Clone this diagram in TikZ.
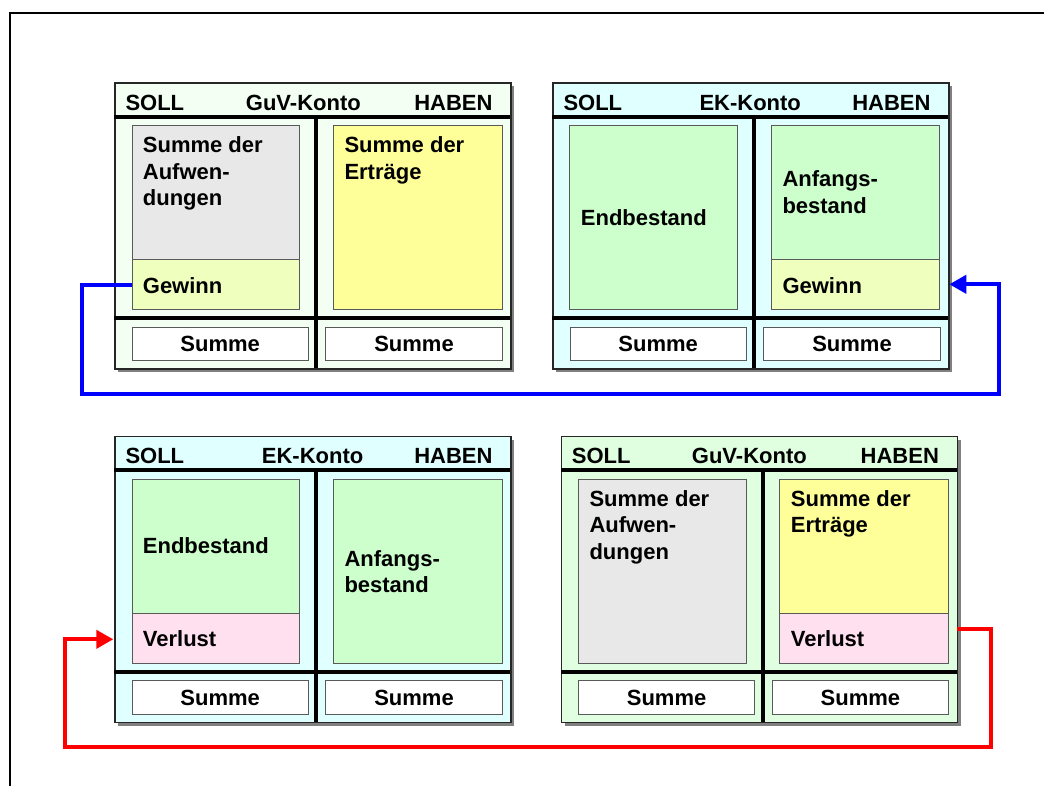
\documentclass[tikz,border=0pt]{standalone}
\usepackage{fontspec}
\setmainfont{Liberation Sans}
\usetikzlibrary{arrows.meta}

% fill colours
\definecolor{bgGuvOben}{HTML}{F2FFF2}
\definecolor{bgEk}{HTML}{E0FFFF}
\definecolor{bgGuvUnten}{HTML}{E0FFE0}
\definecolor{feldGrau}{HTML}{E8E8E8}
\definecolor{feldGelb}{HTML}{FFFF99}
\definecolor{feldGruen}{HTML}{CCFFCC}
\definecolor{feldGewinn}{HTML}{EEFFBE}
\definecolor{feldVerlust}{HTML}{FFE0EE}

\tikzset{
  konto/.style={draw=black!85, line width=1.2pt, inner sep=0pt,
    minimum width=396pt, minimum height=286pt, anchor=north west},
  kontoschatten/.style={fill=black!50},
  feld/.style={draw=black!65, line width=1pt, inner sep=0pt, anchor=north west,
    font=\fontsize{22}{26.7}\selectfont\bfseries},
  trennlinie/.style={line width=4pt, black},
  beschriftung/.style={font=\fontsize{22}{26.7}\selectfont\bfseries,
    inner sep=0pt, anchor=base west},
  fluss/.style={line width=4pt, -{Triangle[length=17pt,width=18pt]}},
}

% T-account frame: #1 name, #2 x, #3 y, #4 background, #5 title, #6 title x
\newcommand{\kontorahmen}[6]{%
  \begin{scope}[shift={(#2,#3)}]
    \fill[kontoschatten] (4,4) rectangle (400,290);
    \node[konto, fill=#4] (#1) at (0,0) {};
    \draw[trennlinie] (0,34.4) -- (396,34.4);
    \draw[trennlinie] (202,34.4) -- (202,286);
    \draw[trennlinie] (0,236) -- (396,236);
    \node[feld, fill=white, minimum width=176pt, minimum height=33.3pt]
      (#1-summeS) at (17.4,244.4) {Summe};
    \node[feld, fill=white, minimum width=176.4pt, minimum height=33.3pt]
      (#1-summeH) at (211,244.4) {Summe};
    \node[beschriftung] (#1-soll) at (11,27.7) {SOLL};
    \node[beschriftung, anchor=base east] (#1-haben) at (378.4,27.7) {HABEN};
    \node[beschriftung] (#1-titel) at (#6,27.7) {#5};
  \end{scope}}

\newcommand{\zeilen}[1]{\parbox[t]{160pt}{#1}}

\begin{document}
\begin{tikzpicture}[x=1pt,y=-1pt]
\useasboundingbox (0,0) rectangle (1044,785);
\clip (0,0) rectangle (1044,785);

% page frame
\draw[line width=1.6pt] (10,800) -- (10,12.7) -- (1050,12.7);

% ---- top left: GuV account with profit
\kontorahmen{tl}{114.3}{82.3}{bgGuvOben}{GuV-Konto}{131.4}
\begin{scope}[shift={(114.3,82.3)}]
  \node[feld, fill=feldGrau, minimum width=167.6pt, minimum height=134.3pt] (tl-aufw) at (17.4,42.7) {};
  \node[feld, fill=feldGewinn, minimum width=167.6pt, minimum height=50pt] (tl-gew) at (17.4,177) {};
  \node[feld, fill=feldGelb, minimum width=168.4pt, minimum height=184.3pt] (tl-ertr) at (219,42.7) {};
  \node[beschriftung] (tl-aufw-t) at (28.4,70) {\zeilen{Summe der\\Aufwen-\\dungen}};
  \node[beschriftung] (tl-gew-t) at (28.4,210.7) {Gewinn};
  \node[beschriftung] (tl-ertr-t) at (230,70) {\zeilen{Summe der\\Erträge}};
\end{scope}

% ---- top right: equity account with profit
\kontorahmen{tr}{552.3}{82.3}{bgEk}{EK-Konto}{147}
\begin{scope}[shift={(552.3,82.3)}]
  \node[feld, fill=feldGruen, minimum width=168.3pt, minimum height=184.3pt] (tr-end) at (16.7,42.7) {};
  \node[feld, fill=feldGruen, minimum width=168.4pt, minimum height=134.3pt] (tr-anf) at (218.4,42.7) {};
  \node[feld, fill=feldGewinn, minimum width=168.4pt, minimum height=50pt] (tr-gew) at (218.4,177) {};
  \node[beschriftung] (tr-end-t) at (28.4,143.4) {Endbestand};
  \node[beschriftung] (tr-anf-t) at (230,104.4) {\zeilen{Anfangs-\\bestand}};
  \node[beschriftung] (tr-gew-t) at (230,210.7) {Gewinn};
\end{scope}

% ---- bottom left: equity account with loss
\kontorahmen{bl}{114.3}{436}{bgEk}{EK-Konto}{147.4}
\begin{scope}[shift={(114.3,436)}]
  \node[feld, fill=feldGruen, minimum width=167.6pt, minimum height=134.3pt] (bl-end) at (17.4,42.7) {};
  \node[feld, fill=feldVerlust, minimum width=167.6pt, minimum height=50pt] (bl-verl) at (17.4,177) {};
  \node[feld, fill=feldGruen, minimum width=168.4pt, minimum height=184.3pt] (bl-anf) at (219,42.7) {};
  \node[beschriftung] (bl-end-t) at (28.4,117.3) {Endbestand};
  \node[beschriftung] (bl-verl-t) at (28.4,210.7) {Verlust};
  \node[beschriftung] (bl-anf-t) at (230,130) {\zeilen{Anfangs-\\bestand}};
\end{scope}

% ---- bottom right: GuV account with loss
\kontorahmen{br}{560.7}{436}{bgGuvUnten}{GuV-Konto}{131}
\begin{scope}[shift={(560.7,436)}]
  \node[feld, fill=feldGrau, minimum width=168pt, minimum height=184.3pt] (br-aufw) at (17,42.7) {};
  \node[feld, fill=feldGelb, minimum width=168.4pt, minimum height=134.3pt] (br-ertr) at (218.6,42.7) {};
  \node[feld, fill=feldVerlust, minimum width=168.4pt, minimum height=50pt] (br-verl) at (218.6,177) {};
  \node[beschriftung] (br-aufw-t) at (28.6,70) {\zeilen{Summe der\\Aufwen-\\dungen}};
  \node[beschriftung] (br-ertr-t) at (230,70) {\zeilen{Summe der\\Erträge}};
  \node[beschriftung] (br-verl-t) at (230,210.7) {Verlust};
\end{scope}

% profit transfer: GuV -> equity
\coordinate (blauUntenL) at (81.7,394.3);
\coordinate (blauUntenR) at (999.3,394.3);
\coordinate (blauZiel) at (949.3,284.3);
\draw[fluss, blue] (tl-gew.west) -| (blauUntenL) -- (blauUntenR) |- (blauZiel);

% loss transfer: GuV -> equity
\coordinate (rotStart) at (956.7,629.3);
\coordinate (rotUntenR) at (990.7,746.7);
\coordinate (rotUntenL) at (65,746.7);
\coordinate (rotZiel) at (113.3,639.3);
\draw[fluss, red] (rotStart) -| (rotUntenR) -- (rotUntenL) |- (rotZiel);
\end{tikzpicture}
\end{document}
